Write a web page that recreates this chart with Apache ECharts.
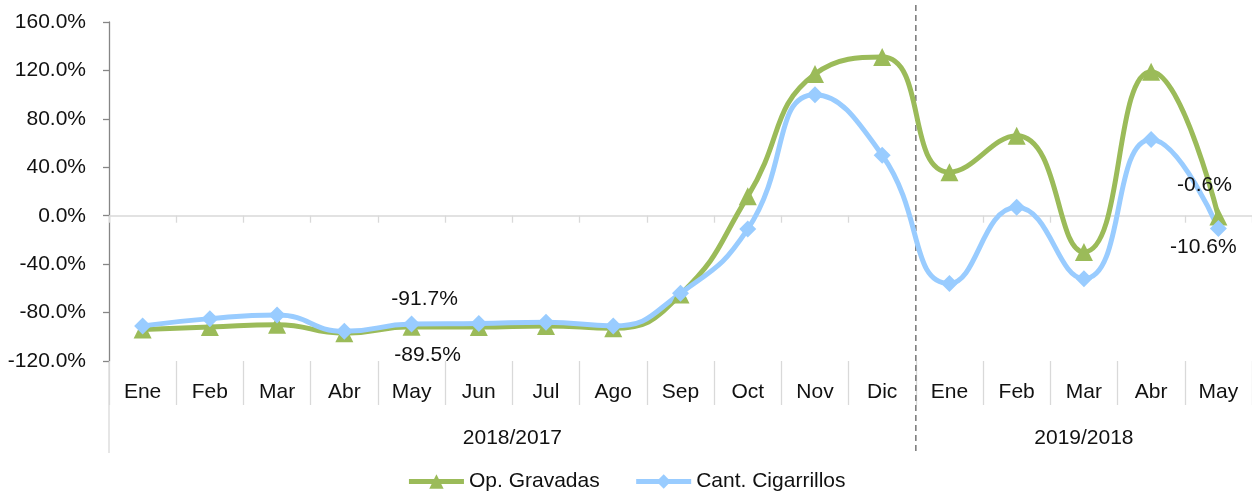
<!DOCTYPE html>
<html>
<head>
<meta charset="utf-8">
<script src="https://cdn.jsdelivr.net/npm/echarts@6/dist/echarts.min.js"></script>
<style>
html, body { margin: 0; padding: 0; background: #fff; }
#main { width: 1252px; height: 494px; }
</style>
</head>
<body>
<div id="main"></div>
<script>
// datos del grafico
const months = ['Ene', 'Feb', 'Mar', 'Abr', 'May', 'Jun', 'Jul', 'Ago', 'Sep', 'Oct', 'Nov', 'Dic', 'Ene', 'Feb', 'Mar', 'Abr', 'May'];
const periods = [
  { name: '2018/2017', from: 0, to: 11 },
  { name: '2019/2018', from: 12, to: 16 }
];
const opGravadas = [-94, -92, -90, -97, -91.7, -92, -91, -93, -65, 16, 117, 131, 36, 66, -30, 119, -0.6];
const cantCigarrillos = [-91, -85, -82, -95.5, -89.5, -89, -88, -91, -64, -11, 100, 50, -56, 7, -52, 63, -10.6];
const yMin = -120, yMax = 160, yStep = 40;

const FONT = 'Liberation Sans';
const FS = 21;
const GREEN = '#9BBB59';
const BLUE = '#99CCFF';
const fmt = v => v.toFixed(1) + '%';

// etiquetas solo en algunos puntos
function withLabels(values, labels) {
  return values.map((v, i) => labels[i]
    ? { value: v, label: Object.assign({ show: true, formatter: p => fmt(p.value), color: '#111', fontSize: FS, fontFamily: FONT, distance: 5 }, labels[i]) }
    : v);
}

const myChart = echarts.init(document.getElementById('main'));

const option = {
  animation: false,
  grid: { left: 109, right: -1, top: 22, bottom: 133 },
  legend: {
    top: 466,
    itemWidth: 55,
    itemHeight: 18,
    itemGap: 34,
    lineStyle: { width: 5 },
    textStyle: { fontFamily: FONT, fontSize: FS, color: '#111' },
    data: ['Op. Gravadas', 'Cant. Cigarrillos']
  },
  xAxis: [
    {
      type: 'category',
      data: months,
      boundaryGap: true,
      axisLine: { show: false, onZero: false },
      axisTick: { show: true, length: 44, lineStyle: { color: '#d9d9d9', width: 1.3 } },
      axisLabel: { margin: 21, fontFamily: FONT, fontSize: FS, color: '#111', interval: 0 },
      splitLine: { show: false }
    },
    {
      type: 'category',
      data: months,
      position: 'top',
      axisLine: { show: true, onZero: true, lineStyle: { color: '#d9d9d9', width: 1.5 } },
      axisTick: { show: true, inside: true, length: 7, lineStyle: { color: '#d9d9d9', width: 1.3 } },
      axisLabel: { show: false },
      splitLine: { show: false }
    }
  ],
  yAxis: {
    type: 'value',
    min: yMin,
    max: yMax,
    interval: yStep,
    axisLine: { show: true, lineStyle: { color: '#868686', width: 1.3 } },
    axisTick: { show: true, length: 6, lineStyle: { color: '#868686', width: 1.3 } },
    axisLabel: { formatter: fmt, fontFamily: FONT, fontSize: FS, color: '#111', margin: 23 },
    splitLine: { show: false }
  },
  series: [
    {
      name: 'Op. Gravadas',
      type: 'line',
      smooth: 0.5,
      symbol: 'triangle',
      symbolSize: 18,
      lineStyle: { color: GREEN, width: 5 },
      itemStyle: { color: GREEN },
      data: withLabels(opGravadas, {
        4: { position: 'top', offset: [13, -3] },
        16: { position: 'top', offset: [-14, -7] }
      })
    },
    {
      name: 'Cant. Cigarrillos',
      type: 'line',
      smooth: 0.5,
      symbol: 'diamond',
      symbolSize: 17,
      lineStyle: { color: BLUE, width: 5 },
      itemStyle: { color: BLUE },
      data: withLabels(cantCigarrillos, {
        4: { position: 'bottom', offset: [16, 7] },
        16: { position: 'bottom', offset: [-15, -5] }
      })
    }
  ]
};

myChart.setOption(option);

// lineas de agrupacion y etiquetas de periodo
function drawGroups() {
  const px = i => myChart.convertToPixel({ xAxisIndex: 0 }, i);
  const band = px(1) - px(0);
  const top = myChart.convertToPixel({ yAxisIndex: 0 }, yMax);
  const bottom = myChart.convertToPixel({ yAxisIndex: 0 }, yMin);
  const groupBottom = bottom + 92;
  const graphic = [];
  periods.forEach((p, k) => {
    const left = px(p.from) - band / 2;
    const center = (px(p.from) + px(p.to)) / 2;
    graphic.push({
      type: 'text',
      x: center, y: bottom + 77,
      style: { text: p.name, fontFamily: FONT, fontSize: FS, fill: '#111', align: 'center', verticalAlign: 'middle' }
    });
    if (k === 0) {
      graphic.push({
        type: 'line',
        shape: { x1: left, y1: bottom, x2: left, y2: groupBottom },
        style: { stroke: '#d9d9d9', lineWidth: 1.3 }
      });
    } else {
      graphic.push({
        type: 'line',
        shape: { x1: left, y1: top - 17, x2: left, y2: groupBottom },
        style: { stroke: '#7f7f7f', lineWidth: 1.6, lineDash: [6, 4] },
        z: 1
      });
    }
  });
  myChart.setOption({ graphic: graphic });
}
drawGroups();

window.addEventListener('resize', () => {
  myChart.resize();
  drawGroups();
});
</script>
</body>
</html>
